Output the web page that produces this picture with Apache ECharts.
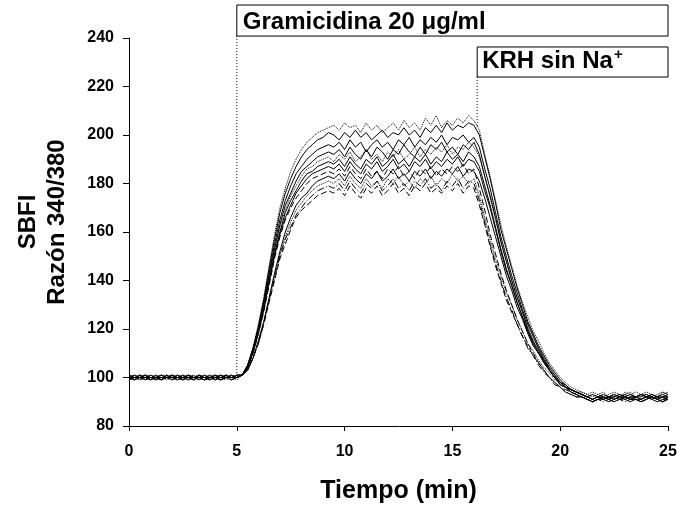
<!DOCTYPE html>
<html>
<head>
<meta charset="utf-8">
<script src="https://cdn.jsdelivr.net/npm/echarts@6/dist/echarts.min.js"></script>
<style>
html,body{margin:0;padding:0;background:#fff;}
#chart{width:678px;height:507px;}
</style>
</head>
<body>
<div id="chart"></div>
<script>
// ---- Data ----
const sampleStepMin = 0.25; // one reading every 15 s, t = 0 ... 25 min
const xTicks = [0, 5, 10, 15, 20, 25];
const yTicks = [80, 100, 120, 140, 160, 180, 200, 220, 240];
const gramicidinStartMin = 5;
const naFreeStartMin = 16.15;
const boxLabels = ['Gramicidina 20 \u03bcg/ml', 'KRH sin Na'];

const trace01 = [101,100,100,101,100,99,100,100,101,100,100,99,100,101,100,100,99,100,101,100,100,
 101,105,112,122,133,146,159,170,178,185,190,194,197,199,201,202,203,
 204,202,205,203,204,201,205,202,204,201,203,205,202,206,203,205,202,207,204,208,203,206,204,207,205,208,206,
 202,192,183,173,163,154,146,138,131,125,119,115,110,106,103,100,98,96,95,94,
 93,92,93,94,92,93,92,94,93,92,93,94,93,92,93,94];
const trace02 = [100,101,100,100,99,100,101,100,100,99,100,101,100,100,99,100,100,101,100,100,101,
 101,105,112,121,132,145,157,168,176,182,187,191,194,196,198,199,201,
 200,198,201,199,202,199,201,198,200,202,199,201,200,203,200,202,199,203,201,204,201,205,202,204,203,205,204,
 200,191,182,172,161,153,145,137,130,123,118,113,109,105,102,99,97,95,94,93,
 92,91,92,91,92,93,92,91,92,92,93,92,91,92,93,92];
const trace03 = [100,99,100,101,100,100,99,101,100,100,101,100,99,100,100,101,100,99,100,101,100,
 101,105,112,120,131,143,155,165,173,179,184,187,190,192,194,195,196,
 195,197,194,198,195,197,193,196,198,195,197,194,198,196,199,195,198,196,199,197,200,196,199,198,200,197,199,
 195,186,178,168,158,150,142,135,128,122,117,112,108,104,101,98,97,95,94,93,
 92,91,92,92,91,92,93,92,91,92,92,93,92,91,92,92];
const trace04 = [99,100,101,100,100,99,100,100,101,100,99,100,100,101,100,99,100,101,100,100,101,
 101,105,111,120,130,142,153,163,171,176,181,185,187,189,191,192,193,
 192,194,191,195,192,190,194,191,195,193,190,194,192,196,193,191,195,192,196,194,197,193,195,192,196,194,197,
 192,183,175,166,156,148,140,133,127,120,115,111,107,103,100,97,96,94,93,92,
 91,90,91,92,91,90,91,92,91,91,90,91,92,91,90,91];
const trace05 = [100,100,99,100,101,100,100,99,100,101,100,100,99,100,101,100,100,99,100,100,101,
 101,105,111,119,129,141,152,162,169,175,179,183,186,187,189,190,191,
 189,192,190,193,189,191,194,190,192,189,193,191,194,190,192,195,191,194,192,195,193,196,192,195,194,197,195,
 191,183,174,165,156,148,140,133,127,121,116,112,107,104,101,98,97,95,94,93,
 92,93,92,91,92,93,92,93,94,92,93,92,93,92,94,93];
const trace06 = [101,100,100,99,100,100,101,100,99,100,100,101,100,100,99,100,101,100,100,99,100,
 101,104,111,119,128,140,151,160,168,173,177,181,184,185,187,188,189,
 188,190,187,191,188,186,190,188,191,187,189,192,188,190,187,191,189,192,188,191,189,193,190,192,189,193,191,
 187,179,171,162,153,145,138,131,125,119,114,110,106,103,100,97,96,94,93,92,
 91,90,91,91,90,91,92,91,90,91,91,92,91,90,91,91];
const trace07 = [100,99,100,100,101,100,99,100,100,101,100,100,99,101,100,100,99,100,101,100,100,
 101,104,110,118,128,139,150,159,166,171,176,179,182,184,185,186,187,
 186,188,185,189,186,184,188,186,189,185,187,190,186,188,185,189,187,190,186,189,187,190,188,191,187,190,189,
 185,177,170,161,152,144,138,131,125,119,114,110,107,103,100,98,96,95,94,93,
 92,91,92,93,92,91,92,92,93,92,91,92,93,92,92,91];
const trace08 = [100,100,101,100,99,100,100,101,100,100,99,100,101,100,100,99,100,100,101,100,100,
 101,104,110,118,127,138,149,158,165,170,174,177,180,182,183,184,185,
 184,186,183,187,184,182,186,183,185,182,186,184,187,183,185,182,186,184,187,183,186,184,187,185,188,184,186,
 178,169,159,151,143,136,130,124,119,114,110,106,103,100,98,96,94,93,92,92,
 91,90,91,92,91,90,91,91,92,91,90,91,92,91,90,91];
const trace09 = [99,100,100,101,100,100,99,100,101,100,100,99,100,100,101,100,100,99,100,101,100,
 101,103,108,115,123,133,143,152,160,166,171,174,176,179,181,182,183,
 182,184,181,185,182,180,184,182,185,181,183,186,182,184,181,185,183,186,182,185,183,186,184,187,183,186,185,
 181,174,166,158,150,142,136,129,124,118,113,110,106,103,100,98,96,95,94,93,
 92,93,92,91,92,92,93,92,91,92,93,92,92,91,92,93];
const trace10 = [100,101,100,100,99,100,101,100,100,99,100,100,101,100,99,100,100,101,100,100,99,
 101,103,108,115,123,132,142,151,158,164,169,172,175,177,179,180,181,
 180,182,179,183,180,178,182,179,181,178,182,180,183,179,181,178,182,180,183,179,182,180,184,181,183,180,182,
 175,166,157,149,142,135,130,124,119,114,111,107,104,102,99,98,96,95,94,94,
 93,94,93,92,93,94,93,92,93,94,93,93,92,93,94,93];
const trace11 = [100,100,99,100,100,101,100,100,99,100,101,100,100,99,100,100,101,100,99,100,100,
 101,103,108,114,122,132,141,150,157,162,167,170,173,175,177,178,179,
 178,180,177,181,178,176,180,178,181,177,179,182,178,180,177,181,179,182,178,180,177,181,179,182,178,181,180,
 173,164,155,147,140,133,128,122,117,112,109,105,102,100,97,96,94,93,92,92,
 91,90,91,90,91,92,91,90,91,91,90,91,92,91,90,91];
const trace12 = [101,100,100,99,100,100,101,100,100,99,100,101,100,100,99,100,101,100,100,99,100,
 101,103,108,114,122,131,140,149,155,161,166,169,171,173,175,176,177,
 176,178,175,179,176,174,178,176,179,175,177,180,176,178,175,179,177,180,176,178,176,179,177,180,176,179,178,
 171,163,154,146,139,132,127,122,117,113,109,106,103,100,98,96,95,94,93,93,
 92,91,92,93,92,91,92,93,92,92,91,92,93,92,91,92];

const traces = [trace01, trace02, trace03, trace04, trace05, trace06,
                trace07, trace08, trace09, trace10, trace11, trace12];
// line style per trace (style, not data)
const traceDash = ['dotted','solid','solid','solid','dotted','solid',
                   'solid',[6,3],'solid','dotted',[7,2,1,2],[6,3]];

// ---- Chart ----
const FONT = '"Liberation Sans", Arial, sans-serif';
const chart = echarts.init(document.getElementById('chart'), null, {renderer: 'canvas'});

const series = traces.map((vals, k) => ({
  type: 'line',
  data: vals.map((v, i) => [i * sampleStepMin, v]),
  showSymbol: false,
  symbol: 'none',
  animation: false,
  silent: true,
  lineStyle: {color: '#000', width: 1, type: traceDash[k]},
  z: traceDash[k] === 'solid' ? 3 : 2
}));

chart.setOption({
  animation: false,
  backgroundColor: '#fff',
  grid: {left: 129, right: 10, top: 38, bottom: 81, containLabel: false, outerBoundsMode: 'none'},
  xAxis: {
    type: 'value', min: xTicks[0], max: xTicks[xTicks.length - 1], interval: 5,
    name: 'Tiempo (min)', nameLocation: 'middle', nameGap: 53,
    nameTextStyle: {fontFamily: FONT, fontWeight: 'bold', fontSize: 25, color: '#000'},
    axisLine: {show: true, onZero: false, lineStyle: {color: '#000', width: 1}},
    axisTick: {show: true, inside: false, length: 5, lineStyle: {color: '#000', width: 1}},
    axisLabel: {show: true, margin: 18, fontFamily: FONT, fontWeight: 'bold', fontSize: 16, color: '#000'},
    splitLine: {show: false}
  },
  yAxis: {
    type: 'value', min: yTicks[0], max: yTicks[yTicks.length - 1], interval: 20,
    name: 'SBFI\nRazón 340/380', nameLocation: 'middle', nameGap: 57, nameRotate: 90,
    nameTextStyle: {fontFamily: FONT, fontWeight: 'bold', fontSize: 24, color: '#000', lineHeight: 29, padding: [0, 0, 0, 20]},
    axisLine: {show: true, onZero: false, lineStyle: {color: '#000', width: 1}},
    axisTick: {show: true, inside: false, length: 6, lineStyle: {color: '#000', width: 1}},
    axisLabel: {show: true, margin: 15, fontFamily: FONT, fontWeight: 'bold', fontSize: 16, color: '#000'},
    splitLine: {show: false}
  },
  series: series
});

// ---- Annotations placed through the chart's own scales ----
const px = (x, y) => chart.convertToPixel({gridIndex: 0}, [x, y]);
const xEnd = xTicks[xTicks.length - 1];
const b1a = px(gramicidinStartMin, 253.6), b1b = px(xEnd, 240.8);
const b2a = px(naFreeStartMin, 236.3), b2b = px(xEnd, 223.9);
const d1a = px(gramicidinStartMin, 240.8), d1b = px(gramicidinStartMin, 101);
const d2a = px(naFreeStartMin, 223.9), d2b = px(naFreeStartMin, 203);

chart.setOption({
  graphic: [
    {type: 'rect', shape: {x: b1a[0], y: b1a[1], width: b1b[0] - b1a[0], height: b1b[1] - b1a[1]},
     style: {fill: '#fff', stroke: '#000', lineWidth: 1}, z: 10},
    {type: 'rect', shape: {x: b2a[0], y: b2a[1], width: b2b[0] - b2a[0], height: b2b[1] - b2a[1]},
     style: {fill: '#fff', stroke: '#000', lineWidth: 1}, z: 10},
    {type: 'line', shape: {x1: d1a[0], y1: d1a[1], x2: d1b[0], y2: d1b[1]},
     style: {stroke: '#000', lineWidth: 1, lineDash: [1, 2]}, z: 9},
    {type: 'line', shape: {x1: d2a[0], y1: d2a[1], x2: d2b[0], y2: d2b[1]},
     style: {stroke: '#000', lineWidth: 1, lineDash: [1, 2]}, z: 9},
    {type: 'text', x: b1a[0] + 6, y: (b1a[1] + b1b[1]) / 2 + 2, z: 11,
     style: {text: boxLabels[0], font: 'bold 24px ' + FONT, fill: '#000', textAlign: 'left', textVerticalAlign: 'middle'}},
    {type: 'text', x: b2a[0] + 5, y: (b2a[1] + b2b[1]) / 2 - 1, z: 11,
     style: {text: '{m|' + boxLabels[1] + '}{s|+}', fill: '#000', textAlign: 'left', textVerticalAlign: 'middle',
       rich: {
         m: {font: 'bold 24px ' + FONT, fill: '#000', lineHeight: 27},
         s: {font: 'bold 15px ' + FONT, fill: '#000', verticalAlign: 'top', lineHeight: 27, padding: [0, 0, 10, 1]}
       }}}
  ]
});
</script>
</body>
</html>
